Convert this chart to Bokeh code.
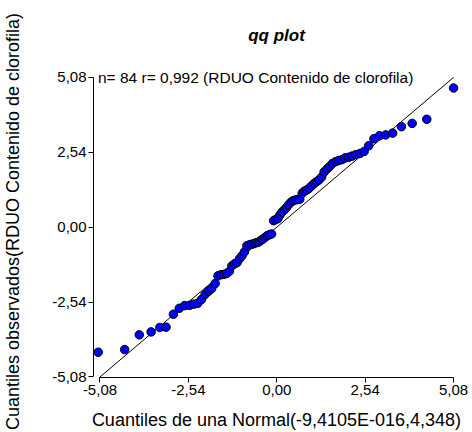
from bokeh.plotting import figure
from bokeh.models import ColumnDataSource, FixedTicker, CustomJSTickFormatter, Label, Range1d
from bokeh.embed import file_html
from bokeh.resources import INLINE

x_quant = [-5.13, -4.37, -3.95, -3.61, -3.36, -3.18, -2.97, -2.80, -2.65, -2.51,
           -2.39, -2.27, -2.16, -2.06, -1.96, -1.87, -1.77, -1.69, -1.60, -1.52,
           -1.44, -1.36, -1.29, -1.21, -1.14, -1.07, -1.00, -0.93, -0.86, -0.79,
           -0.73, -0.66, -0.60, -0.53, -0.47, -0.41, -0.34, -0.28, -0.22, -0.15,
           -0.09, -0.03, 0.03, 0.09, 0.15, 0.22, 0.28, 0.34, 0.41, 0.47,
           0.53, 0.60, 0.66, 0.73, 0.79, 0.86, 0.93, 1.00, 1.07, 1.14,
           1.21, 1.29, 1.36, 1.44, 1.52, 1.60, 1.69, 1.77, 1.87, 1.96,
           2.06, 2.16, 2.27, 2.39, 2.51, 2.64, 2.79, 2.95, 3.13, 3.33,
           3.58, 3.89, 4.31, 5.08]
y_obs = [-4.24, -4.15, -3.65, -3.55, -3.40, -3.39, -2.95, -2.75, -2.66, -2.65,
         -2.61, -2.58, -2.45, -2.28, -2.17, -2.08, -1.91, -1.65, -1.61, -1.60,
         -1.57, -1.49, -1.31, -1.24, -1.20, -1.07, -0.97, -0.84, -0.63, -0.60,
         -0.58, -0.56, -0.53, -0.51, -0.46, -0.41, -0.35, -0.29, -0.26, -0.23,
         0.22, 0.26, 0.29, 0.41, 0.51, 0.59, 0.67, 0.76, 0.85, 0.90,
         0.92, 0.94, 0.95, 1.15, 1.22, 1.26, 1.32, 1.40, 1.48, 1.54,
         1.60, 1.70, 1.87, 1.97, 2.06, 2.16, 2.22, 2.26, 2.29, 2.35,
         2.37, 2.41, 2.46, 2.50, 2.57, 2.76, 3.00, 3.10, 3.13, 3.19,
         3.41, 3.52, 3.66, 4.72]
tick_vals = [-5.08, -2.54, 0.0, 2.54, 5.08]

title_text = "qq plot"
x_label = "Cuantiles de una Normal(-9,4105E-016,4,348)"
y_label = "Cuantiles observados(RDUO Contenido de clorofila)"
note_text = "n= 84 r= 0,992 (RDUO Contenido de clorofila)"

lo, hi = tick_vals[0], tick_vals[-1]
FONT = "Liberation Sans"

p = figure(width=472, height=432, output_backend="svg", toolbar_location=None,
           x_range=Range1d(-5.266, 5.25), y_range=Range1d(-5.097, 5.483),
           min_border_left=91, min_border_right=13, min_border_top=65,
           min_border_bottom=52, background_fill_color="white",
           border_fill_color="white")
p.outline_line_color = None
p.grid.visible = False

p.title.text = title_text
p.title.align = "center"
p.title.vertical_align = "middle"
p.title.text_font = FONT
p.title.text_font_style = "bold italic"
p.title.text_font_size = "17px"
p.title.text_color = "black"
p.title.standoff = 40

fmt = CustomJSTickFormatter(code="return tick.toFixed(2).replace('.', ',');")
for ax in (p.xaxis[0], p.yaxis[0]):
    ax.ticker = FixedTicker(ticks=tick_vals)
    ax.formatter = fmt
    ax.bounds = (lo, hi)
    ax.axis_line_color = "black"
    ax.major_tick_line_color = "black"
    ax.minor_tick_line_color = None
    ax.major_tick_in = 0
    ax.major_tick_out = 5
    ax.major_label_text_font = FONT
    ax.major_label_text_font_size = "15px"
    ax.major_label_text_color = "black"
    ax.axis_label_text_font = FONT
    ax.axis_label_text_font_style = "normal"
    ax.axis_label_text_color = "black"

p.xaxis.axis_label = x_label
p.xaxis.axis_label_text_font_size = "18px"
p.xaxis.axis_label_standoff = 12
p.xaxis.major_label_standoff = 2
p.yaxis.axis_label = y_label
p.yaxis.axis_label_text_font_size = "18px"
p.yaxis.axis_label_standoff = 26
p.yaxis.major_label_standoff = 2

src = ColumnDataSource(data=dict(x=x_quant, y=y_obs))
p.line([lo, hi], [lo, hi], line_color="black", line_width=1)
p.scatter("x", "y", source=src, size=8.5, fill_color="#0000FF",
          line_color="black", line_width=1)

p.add_layout(Label(x=lo, y=hi, text=note_text, x_offset=-2,
                   text_baseline="middle", text_align="left",
                   text_font=FONT, text_font_size="15.5px", text_color="black"))

open("out.html", "w").write(file_html(p, INLINE))
